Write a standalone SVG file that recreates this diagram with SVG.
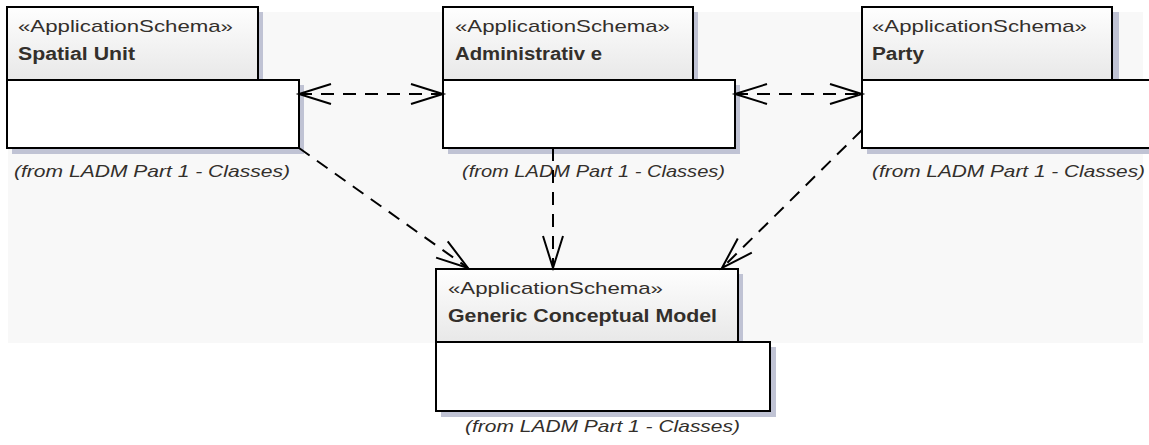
<svg xmlns="http://www.w3.org/2000/svg" width="1149" height="445" viewBox="0 0 1149 445">
<defs>
<linearGradient id="hdr" x1="0" y1="0" x2="0" y2="1">
<stop offset="0" stop-color="#fefefe"/>
<stop offset="1" stop-color="#e8e8e8"/>
</linearGradient>
<marker id="open" markerUnits="userSpaceOnUse" markerWidth="36" markerHeight="26" refX="32" refY="11" orient="auto-start-reverse" overflow="visible">
<path d="M0,1 L32,11 L0,21" fill="none" stroke="#000" stroke-width="2" stroke-dasharray="none"/>
</marker>
</defs>
<style>
.sh{fill:#c0c3d4}
.hd{fill:url(#hdr);stroke:#000;stroke-width:2}
.bd{fill:#fff;stroke:#000;stroke-width:2}
.st{font-family:"Liberation Sans",Arial,sans-serif;font-size:17px;fill:#332f2b}
.nm{font-family:"Liberation Sans",Arial,sans-serif;font-size:18px;font-weight:bold;fill:#332f2b}
.fr{font-family:"Liberation Sans",Arial,sans-serif;font-size:17px;font-style:italic;fill:#332f2b}
.cn{fill:none;stroke:#000;stroke-width:2;stroke-dasharray:13,9;marker-end:url(#open)}
.bi{marker-start:url(#open)}
</style>
<rect x="8" y="12" width="1135" height="331" fill="#f8f8f8"/>

<g id="spatial-unit">
<rect class="sh" x="12" y="12" width="251" height="73"/>
<rect class="sh" x="12" y="85" width="292" height="69"/>
<rect class="hd" x="7" y="7" width="251" height="73"/>
<rect class="bd" x="7" y="80" width="292" height="68"/>
<text class="st" x="18" y="32" textLength="215" lengthAdjust="spacingAndGlyphs">«ApplicationSchema»</text>
<text class="nm" x="18" y="60" textLength="117" lengthAdjust="spacingAndGlyphs">Spatial Unit</text>
<text class="fr" x="14" y="177" textLength="276" lengthAdjust="spacingAndGlyphs">(from LADM Part 1 - Classes)</text>
</g>

<g id="administrative">
<rect class="sh" x="448" y="12" width="250" height="73"/>
<rect class="sh" x="448" y="85" width="292" height="69"/>
<rect class="hd" x="443" y="7" width="250" height="73"/>
<rect class="bd" x="443" y="80" width="292" height="68"/>
<text class="st" x="455" y="32" textLength="215" lengthAdjust="spacingAndGlyphs">«ApplicationSchema»</text>
<text class="nm" x="455" y="60" textLength="147" lengthAdjust="spacingAndGlyphs">Administrativ e</text>
<text class="fr" x="462" y="177" textLength="263" lengthAdjust="spacingAndGlyphs">(from LADM Part 1 - Classes)</text>
</g>

<g id="party">
<rect class="sh" x="867" y="12" width="252" height="73"/>
<rect class="sh" x="867" y="85" width="300" height="69"/>
<rect class="hd" x="862" y="7" width="250" height="73"/>
<rect class="bd" x="862" y="80" width="300" height="68"/>
<text class="st" x="872" y="32" textLength="215" lengthAdjust="spacingAndGlyphs">«ApplicationSchema»</text>
<text class="nm" x="872" y="60" textLength="52" lengthAdjust="spacingAndGlyphs">Party</text>
<text class="fr" x="872" y="177" textLength="273" lengthAdjust="spacingAndGlyphs">(from LADM Part 1 - Classes)</text>
</g>

<g id="generic-conceptual-model">
<rect class="sh" x="441" y="274" width="302" height="73"/>
<rect class="sh" x="441" y="347" width="335" height="70"/>
<rect class="hd" x="436" y="269" width="302" height="73"/>
<rect class="bd" x="436" y="342" width="334" height="69"/>
<text class="st" x="448" y="294" textLength="215" lengthAdjust="spacingAndGlyphs">«ApplicationSchema»</text>
<text class="nm" x="448" y="322" textLength="269" lengthAdjust="spacingAndGlyphs">Generic Conceptual Model</text>
<text class="fr" x="465" y="432" textLength="275" lengthAdjust="spacingAndGlyphs">(from LADM Part 1 - Classes)</text>
</g>

<g id="connectors">
<path class="cn bi" d="M299,94 L443,94"/>
<path class="cn bi" d="M735,94 L862,94"/>
<path class="cn" d="M299,148 L468,268"/>
<path class="cn" d="M553,148 L553,268"/>
<path class="cn" d="M862,130 L722,268"/>
</g>
</svg>
